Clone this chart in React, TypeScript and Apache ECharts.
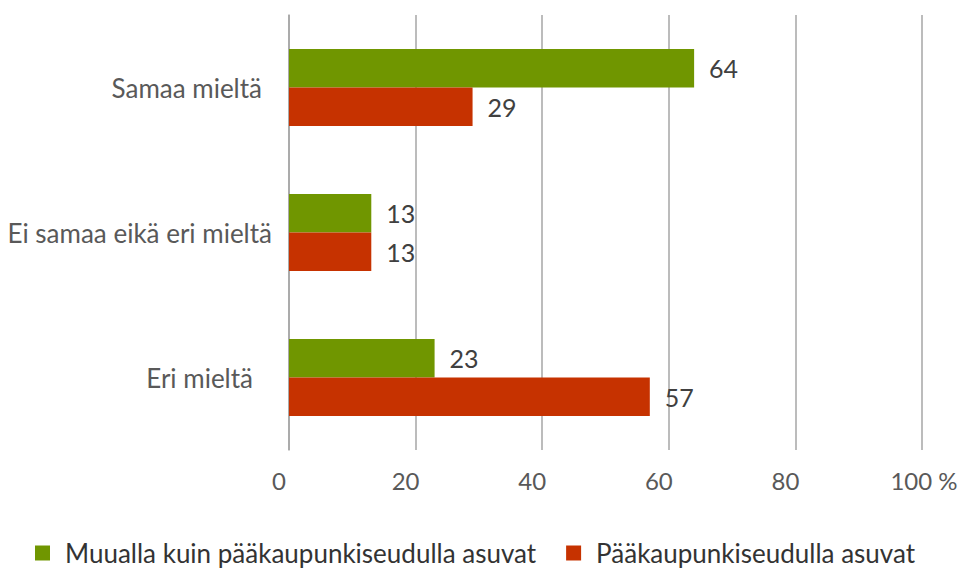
import React, { useEffect, useRef } from "react";
import * as echarts from "echarts";

const categories = ["Samaa mieltä", "Ei samaa eikä eri mieltä", "Eri mieltä"];
const seriesNames = ["Muualla kuin pääkaupunkiseudulla asuvat", "Pääkaupunkiseudulla asuvat"];
const muualla = [64, 13, 23];
const paakaupunki = [29, 13, 57];
const colors = ["#709600", "#c63200"];
const FONT = "Lato, 'Open Sans', sans-serif";

export default function App() {
  const ref = useRef<HTMLDivElement>(null);
  useEffect(() => {
    if (!ref.current) return;
    const chart = echarts.init(ref.current, null, { renderer: "svg" });
    const label = {
      show: true,
      position: "right" as const,
      distance: 15,
      color: "#404040",
      fontSize: 25,
      fontFamily: FONT,
    };
    const catStyle = (pad: number) => ({
      fontSize: 26,
      color: "#595959",
      fontFamily: FONT,
      padding: [0, pad, 0, 0],
    });
    chart.setOption({
      animation: false,
      textStyle: { fontFamily: FONT },
      grid: {
        left: 289,
        right: 40,
        top: 15,
        bottom: 118,
        containLabel: false,
        outerBoundsMode: "none",
      },
      legend: {
        top: 540,
        left: 35,
        padding: 0,
        itemWidth: 15,
        itemHeight: 15,
        itemGap: 30,
        icon: "rect",
        textStyle: {
          fontSize: 26,
          lineHeight: 26,
          color: "#333",
          fontFamily: FONT,
          padding: [0, 0, 0, 10],
        },
        data: seriesNames,
      },
      xAxis: {
        type: "value",
        min: 0,
        max: 100,
        interval: 20,
        axisLine: { show: false },
        axisTick: { show: false },
        splitLine: { lineStyle: { color: "#a6a6a6", width: 1.5 } },
        axisLabel: {
          fontSize: 24,
          color: "#595959",
          margin: 18,
          fontFamily: FONT,
          formatter: (v: number) => (v === 100 ? "{last|100 %}" : "{n|" + v + "}"),
          rich: {
            n: { fontSize: 24, color: "#595959", fontFamily: FONT, padding: [0, 20, 0, 0] },
            last: { fontSize: 24, color: "#595959", fontFamily: FONT, padding: [0, 0, 0, 4] },
          },
        },
      },
      yAxis: {
        type: "category",
        inverse: true,
        data: categories,
        axisLine: { show: true, lineStyle: { color: "#a6a6a6", width: 1.5 } },
        axisTick: { show: false },
        axisLabel: {
          fontSize: 26,
          color: "#595959",
          margin: 17,
          fontFamily: FONT,
          formatter: (v: string, i: number) => "{c" + i + "|" + v + "}",
          rich: { c0: catStyle(10), c1: catStyle(0), c2: catStyle(19) },
        },
      },
      series: [
        {
          name: seriesNames[0],
          type: "bar",
          data: muualla,
          itemStyle: { color: colors[0] },
          barGap: "0%",
          barCategoryGap: "47%",
          label,
        },
        {
          name: seriesNames[1],
          type: "bar",
          data: paakaupunki,
          itemStyle: { color: colors[1] },
          barGap: "0%",
          barCategoryGap: "47%",
          label,
        },
      ],
    });
    return () => chart.dispose();
  }, []);
  return (
    <div
      ref={ref}
      style={{ position: "absolute", left: 0, top: 0, width: 962, height: 568 }}
    />
  );
}
